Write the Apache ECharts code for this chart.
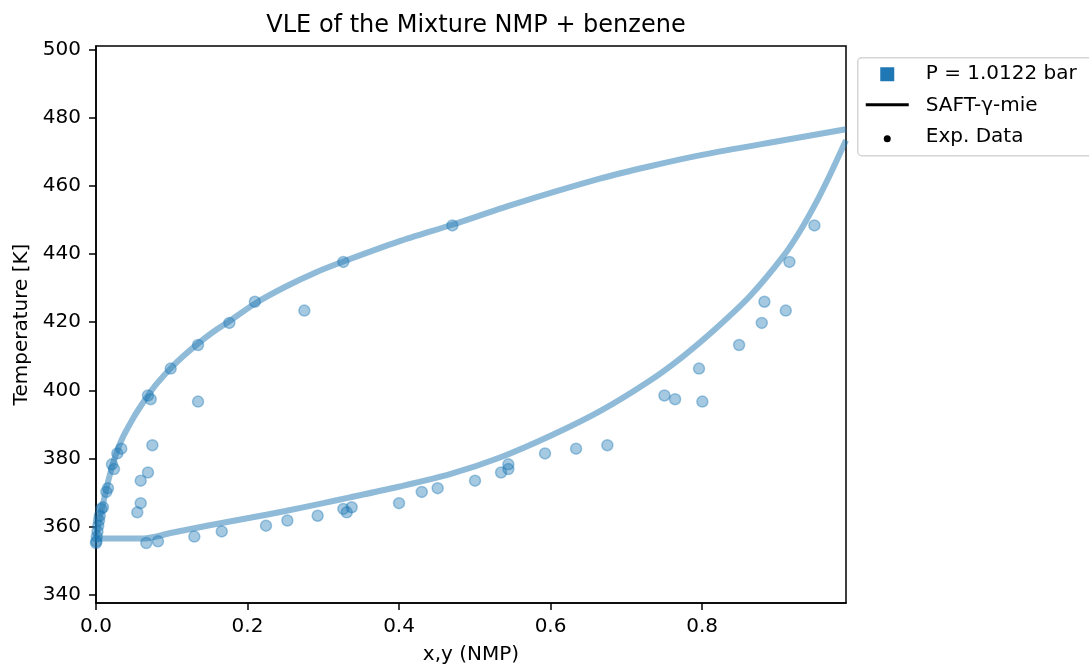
<!DOCTYPE html>
<html>
<head>
<meta charset="utf-8">
<title>VLE of the Mixture NMP + benzene</title>
<script src="https://cdn.jsdelivr.net/npm/echarts@6/dist/echarts.min.js"></script>
<style>
  html, body { margin: 0; padding: 0; background: #ffffff; }
  #chart { width: 1089px; height: 670px; }
</style>
</head>
<body>
<div id="chart"></div>
<script>
// Axis ticks
const xTicks = [0, 0.2, 0.4, 0.6, 0.8];
const yTicks = [340, 360, 380, 400, 420, 440, 460, 480, 500];

// SAFT-γ-mie model: dew curve (vapour composition y) at P = 1.0122 bar
const dewY = [0, 0.001, 0.003, 0.005, 0.007, 0.010, 0.0136, 0.018, 0.0224, 0.027, 0.031, 0.036, 0.042, 0.05, 0.06, 0.0686, 0.08, 0.0986, 0.115, 0.135, 0.155, 0.176, 0.21, 0.25, 0.29, 0.3265, 0.4, 0.47, 0.55, 0.665, 0.73, 0.8, 0.9, 0.99];
const dewT = [356.5, 358.0, 360.5, 362.6, 364.6, 367.4, 371.0, 375.0, 378.5, 381.6, 384.0, 386.5, 389.0, 392.2, 395.7, 398.5, 401.9, 406.5, 410.0, 413.8, 417.2, 420.3, 425.5, 430.4, 434.6, 437.8, 443.7, 448.6, 454.5, 462.1, 465.7, 469.1, 473.1, 476.6];

// SAFT-γ-mie model: bubble curve (liquid composition x)
const bubX = [0, 0.0625, 0.1, 0.15, 0.2033, 0.25, 0.3, 0.3353, 0.4013, 0.4673, 0.5333, 0.5993, 0.6653, 0.7314, 0.775, 0.819, 0.863, 0.907, 0.93, 0.951, 0.97, 0.99];
const bubT = [356.5, 356.5, 358.2, 360.4, 362.6, 364.6, 366.9, 368.6, 371.8, 375.4, 380.3, 386.6, 393.9, 402.9, 410.0, 418.3, 427.6, 439.3, 447.0, 455.3, 463.8, 473.4];

// Experimental data: temperature, liquid x(NMP), vapour y(NMP)
const expT = [448.4, 437.7, 426.0, 423.4, 419.8, 413.3, 406.4, 398.5, 397.4, 396.7, 383.9, 382.9, 381.5, 378.3, 376.9, 375.9, 373.5, 371.3, 370.2, 366.9, 365.7, 365.2, 364.2, 363.2, 361.8, 360.3, 358.6, 357.1, 355.7, 355.2];
const expX = [0.9483, 0.9153, 0.8823, 0.9105, 0.8788, 0.8489, 0.796, 0.7503, 0.7644, 0.8004, 0.675, 0.6337, 0.5927, 0.5443, 0.5443, 0.5347, 0.5003, 0.451, 0.43, 0.40, 0.3375, 0.3265, 0.331, 0.2926, 0.2526, 0.2244, 0.166, 0.1298, 0.0818, 0.0664];
const expY = [0.4704, 0.3265, 0.2097, 0.275, 0.176, 0.1347, 0.0986, 0.0686, 0.0722, 0.1347, 0.0744, 0.0334, 0.0281, 0.0211, 0.0238, 0.0686, 0.059, 0.0158, 0.0136, 0.059, 0.0092, 0.007, 0.0545, 0.005, 0.004, 0.003, 0.002, 0.001, 0.0005, 0.0];

const BLUE = '#1f77b4';
const BLUE_HALF = 'rgba(31,119,180,0.5)';
const FONT = 'DejaVu Sans';

const pairs = (xs, ys) => xs.map((v, i) => [v, ys[i]]);

const chart = echarts.init(document.getElementById('chart'), null, { renderer: 'canvas' });

const lineStyle = { color: BLUE_HALF, width: 6 };
const pointStyle = { color: BLUE_HALF, borderColor: BLUE_HALF, borderWidth: 1.5 };

chart.setOption({
  animation: false,
  backgroundColor: '#ffffff',
  title: {
    text: 'VLE of the Mixture NMP + benzene',
    left: 471,
    textAlign: 'center',
    top: 9,
    textStyle: { fontFamily: FONT, fontSize: 24, fontWeight: 'normal', color: '#000' }
  },
  grid: {
    left: 96, top: 46, width: 750, height: 558,
    show: true, borderColor: '#000', borderWidth: 1.5, backgroundColor: 'transparent'
  },
  xAxis: {
    type: 'value',
    min: 0, max: 0.99,
    name: 'x,y (NMP)',
    nameLocation: 'middle',
    nameGap: 42,
    nameTextStyle: { fontFamily: FONT, fontSize: 20, color: '#000' },
    axisLine: { show: true, onZero: false, lineStyle: { color: '#000', width: 1.5 } },
    axisTick: { show: true, length: 7, customValues: xTicks, lineStyle: { color: '#000', width: 1.5 } },
    axisLabel: {
      customValues: xTicks, margin: 14,
      fontFamily: FONT, fontSize: 20, color: '#000',
      formatter: v => v.toFixed(1)
    },
    splitLine: { show: false }
  },
  yAxis: {
    type: 'value',
    min: 337.6, max: 501.05,
    name: 'Temperature [K]',
    nameLocation: 'middle',
    nameGap: 62,
    nameTextStyle: { fontFamily: FONT, fontSize: 20, color: '#000' },
    axisLine: { show: true, onZero: false, lineStyle: { color: '#000', width: 1.5 } },
    axisTick: { show: true, length: 7, customValues: yTicks, lineStyle: { color: '#000', width: 1.5 } },
    axisLabel: {
      customValues: yTicks, margin: 15,
      fontFamily: FONT, fontSize: 20, color: '#000',
      formatter: v => String(v)
    },
    splitLine: { show: false }
  },
  series: [
    {
      name: 'SAFT-γ-mie dew', type: 'line', data: pairs(dewY, dewT),
      showSymbol: false, smooth: 0.25, clip: true,
      lineStyle: lineStyle, z: 2
    },
    {
      name: 'SAFT-γ-mie bubble', type: 'line', data: pairs(bubX, bubT),
      showSymbol: false, smooth: 0.25, clip: true,
      lineStyle: lineStyle, z: 2
    },
    {
      name: 'Exp. Data liquid', type: 'scatter', data: pairs(expX, expT),
      symbol: 'circle', symbolSize: 11, itemStyle: pointStyle, z: 3
    },
    {
      name: 'Exp. Data vapour', type: 'scatter', data: pairs(expY, expT),
      symbol: 'circle', symbolSize: 11, itemStyle: pointStyle, z: 3
    }
  ],
  graphic: [
    {
      type: 'group', left: 857, top: 57, z: 10,
      children: [
        { type: 'rect', shape: { x: 0, y: 0, width: 260, height: 98, r: 4 },
          style: { fill: 'rgba(255,255,255,0.9)', stroke: '#d5d5d5', lineWidth: 1.5 } },
        { type: 'rect', shape: { x: 22.5, y: 9.5, width: 14, height: 14 }, style: { fill: BLUE } },
        { type: 'text', x: 68, y: 16.5, style: { text: 'P = 1.0122 bar', font: '20px "DejaVu Sans"', fill: '#000', verticalAlign: 'middle' } },
        { type: 'line', shape: { x1: 8, y1: 47, x2: 51, y2: 47 }, style: { stroke: '#000', lineWidth: 3 } },
        { type: 'text', x: 68, y: 48, style: { text: 'SAFT-γ-mie', font: '20px "DejaVu Sans"', fill: '#000', verticalAlign: 'middle' } },
        { type: 'circle', shape: { cx: 29.5, cy: 81, r: 3.5 }, style: { fill: '#000' } },
        { type: 'text', x: 68, y: 79, style: { text: 'Exp. Data', font: '20px "DejaVu Sans"', fill: '#000', verticalAlign: 'middle' } }
      ]
    }
  ]
});
</script>
</body>
</html>
